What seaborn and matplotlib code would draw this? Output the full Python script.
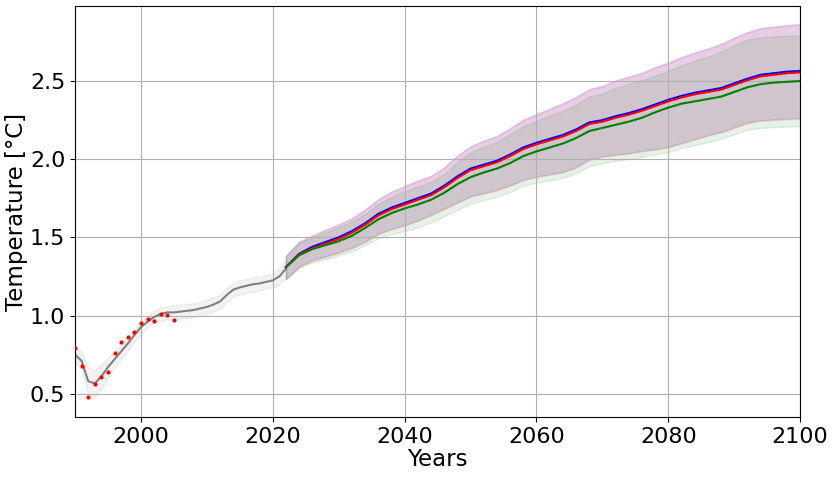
import matplotlib
matplotlib.use("Agg")
import matplotlib.pyplot as plt
import seaborn as sns

# Historical reconstruction (gray) and observations (red dots)
hist_years = list(range(1990, 2023))
hist_mean = [0.75, 0.71, 0.58, 0.565, 0.61, 0.67, 0.72, 0.77, 0.82, 0.875, 0.925,
             0.96, 0.99, 1.01, 1.02, 1.02, 1.025, 1.03, 1.035, 1.045, 1.055,
             1.07, 1.09, 1.13, 1.165, 1.18, 1.19, 1.20, 1.205, 1.215, 1.225,
             1.25, 1.30]
hist_upper = [0.79, 0.77, 0.67, 0.65, 0.69, 0.73, 0.77, 0.815, 0.86, 0.91, 0.96,
              0.995, 1.03, 1.05, 1.06, 1.065, 1.07, 1.075, 1.08, 1.09, 1.10,
              1.115, 1.135, 1.175, 1.21, 1.225, 1.235, 1.245, 1.25, 1.26, 1.27,
              1.30, 1.36]
hist_lower = [0.70, 0.66, 0.50, 0.475, 0.53, 0.60, 0.665, 0.72, 0.775, 0.83, 0.88,
              0.92, 0.95, 0.965, 0.975, 0.975, 0.98, 0.985, 0.99, 1.00, 1.01,
              1.025, 1.045, 1.085, 1.12, 1.135, 1.145, 1.155, 1.16, 1.17, 1.18,
              1.20, 1.24]

obs_years = list(range(1990, 2006))
obs_values = [0.79, 0.675, 0.48, 0.56, 0.607, 0.637, 0.763, 0.83, 0.865, 0.897,
              0.955, 0.98, 0.963, 1.01, 1.006, 0.97]

# Projections, 2-year steps
proj_years = list(range(2022, 2101, 2))

blue_mean = [1.31, 1.395, 1.44, 1.47, 1.50, 1.54, 1.59, 1.65, 1.69, 1.72, 1.75,
             1.78, 1.83, 1.89, 1.94, 1.965, 1.99, 2.03, 2.075, 2.105, 2.13, 2.155,
             2.19, 2.235, 2.25, 2.275, 2.295, 2.32, 2.35, 2.38, 2.405, 2.425, 2.44,
             2.455, 2.485, 2.515, 2.54, 2.55, 2.56, 2.565]
blue_upper = [1.385, 1.475, 1.515, 1.55, 1.585, 1.625, 1.68, 1.745, 1.795, 1.83,
              1.865, 1.895, 1.95, 2.025, 2.085, 2.12, 2.15, 2.20, 2.255, 2.29,
              2.325, 2.36, 2.40, 2.45, 2.47, 2.505, 2.53, 2.555, 2.59, 2.62, 2.655,
              2.685, 2.71, 2.74, 2.78, 2.815, 2.84, 2.85, 2.86, 2.865]
blue_lower = [1.235, 1.315, 1.355, 1.38, 1.405, 1.435, 1.475, 1.525, 1.555, 1.58,
              1.61, 1.645, 1.685, 1.725, 1.765, 1.785, 1.805, 1.835, 1.87, 1.89,
              1.905, 1.92, 1.95, 2.00, 2.02, 2.03, 2.04, 2.055, 2.065, 2.08, 2.105,
              2.13, 2.155, 2.175, 2.205, 2.235, 2.25, 2.255, 2.26, 2.265]

red_mean = [1.31, 1.39, 1.43, 1.46, 1.49, 1.53, 1.58, 1.64, 1.68, 1.71, 1.74,
            1.77, 1.82, 1.88, 1.93, 1.955, 1.98, 2.02, 2.065, 2.095, 2.12, 2.145,
            2.18, 2.225, 2.24, 2.265, 2.285, 2.31, 2.34, 2.37, 2.395, 2.415, 2.43,
            2.445, 2.475, 2.505, 2.53, 2.54, 2.55, 2.555]
red_upper = [1.38, 1.47, 1.51, 1.545, 1.58, 1.62, 1.675, 1.74, 1.79, 1.825, 1.86,
             1.89, 1.945, 2.02, 2.08, 2.115, 2.145, 2.195, 2.25, 2.285, 2.32,
             2.355, 2.395, 2.445, 2.465, 2.50, 2.525, 2.55, 2.585, 2.615, 2.65,
             2.68, 2.705, 2.735, 2.775, 2.81, 2.835, 2.845, 2.855, 2.86]
red_lower = [1.23, 1.31, 1.35, 1.375, 1.40, 1.43, 1.47, 1.52, 1.55, 1.575, 1.605,
             1.64, 1.68, 1.72, 1.76, 1.78, 1.80, 1.83, 1.865, 1.885, 1.90, 1.915,
             1.945, 1.995, 2.015, 2.025, 2.035, 2.05, 2.06, 2.075, 2.10, 2.125,
             2.15, 2.17, 2.20, 2.23, 2.245, 2.25, 2.255, 2.26]

green_mean = [1.31, 1.385, 1.425, 1.45, 1.475, 1.51, 1.56, 1.615, 1.655, 1.685,
              1.71, 1.74, 1.785, 1.84, 1.885, 1.915, 1.94, 1.975, 2.02, 2.05,
              2.075, 2.10, 2.135, 2.18, 2.20, 2.22, 2.24, 2.265, 2.30, 2.33, 2.355,
              2.37, 2.385, 2.40, 2.43, 2.46, 2.48, 2.49, 2.495, 2.50]
green_upper = [1.38, 1.465, 1.50, 1.53, 1.565, 1.60, 1.65, 1.715, 1.76, 1.795,
               1.825, 1.855, 1.905, 1.98, 2.045, 2.08, 2.11, 2.16, 2.21, 2.245,
               2.28, 2.31, 2.35, 2.40, 2.42, 2.455, 2.48, 2.505, 2.535, 2.565,
               2.60, 2.63, 2.655, 2.69, 2.73, 2.765, 2.78, 2.785, 2.79, 2.79]
green_lower = [1.23, 1.305, 1.34, 1.36, 1.385, 1.41, 1.45, 1.495, 1.52, 1.54,
               1.565, 1.595, 1.635, 1.675, 1.715, 1.74, 1.76, 1.79, 1.83, 1.85,
               1.865, 1.88, 1.91, 1.955, 1.975, 1.99, 2.00, 2.015, 2.03, 2.045,
               2.07, 2.09, 2.11, 2.13, 2.16, 2.19, 2.20, 2.205, 2.21, 2.21]

x_ticks = [2000, 2020, 2040, 2060, 2080, 2100]
y_ticks = [0.5, 1.0, 1.5, 2.0, 2.5]

plt.rcParams['font.size'] = 16
fig, ax = plt.subplots(figsize=(8.37, 4.8), dpi=100)
fig.subplots_adjust(left=0.0896, right=0.956, top=0.9875, bottom=0.131)

# uncertainty bands
ax.fill_between(hist_years, hist_lower, hist_upper, color='gray', alpha=0.1)
ax.fill_between(proj_years, blue_lower, blue_upper, color='blue', alpha=0.1)
ax.fill_between(proj_years, red_lower, red_upper, color='red', alpha=0.1)
ax.fill_between(proj_years, green_lower, green_upper, color='green', alpha=0.1)

sns.lineplot(x=hist_years, y=hist_mean, color='gray', linewidth=1.5, ax=ax)
sns.lineplot(x=proj_years, y=blue_mean, color='blue', linewidth=1.5, ax=ax)
sns.lineplot(x=proj_years, y=red_mean, color='red', linewidth=1.5, ax=ax)
sns.lineplot(x=proj_years, y=green_mean, color='green', linewidth=1.5, ax=ax)
sns.scatterplot(x=obs_years, y=obs_values, color='red', s=9, linewidth=0, ax=ax, zorder=5)

ax.set_xlim(1990, 2100)
ax.set_ylim(0.35, 2.98)
ax.set_xticks(x_ticks)
ax.set_yticks(y_ticks)
ax.set_xlabel('Years', fontsize=16.5, labelpad=1)
ax.set_ylabel('Temperature [°C]', fontsize=16.5, labelpad=1)
ax.grid(True)

plt.savefig('out.png', dpi=100)
